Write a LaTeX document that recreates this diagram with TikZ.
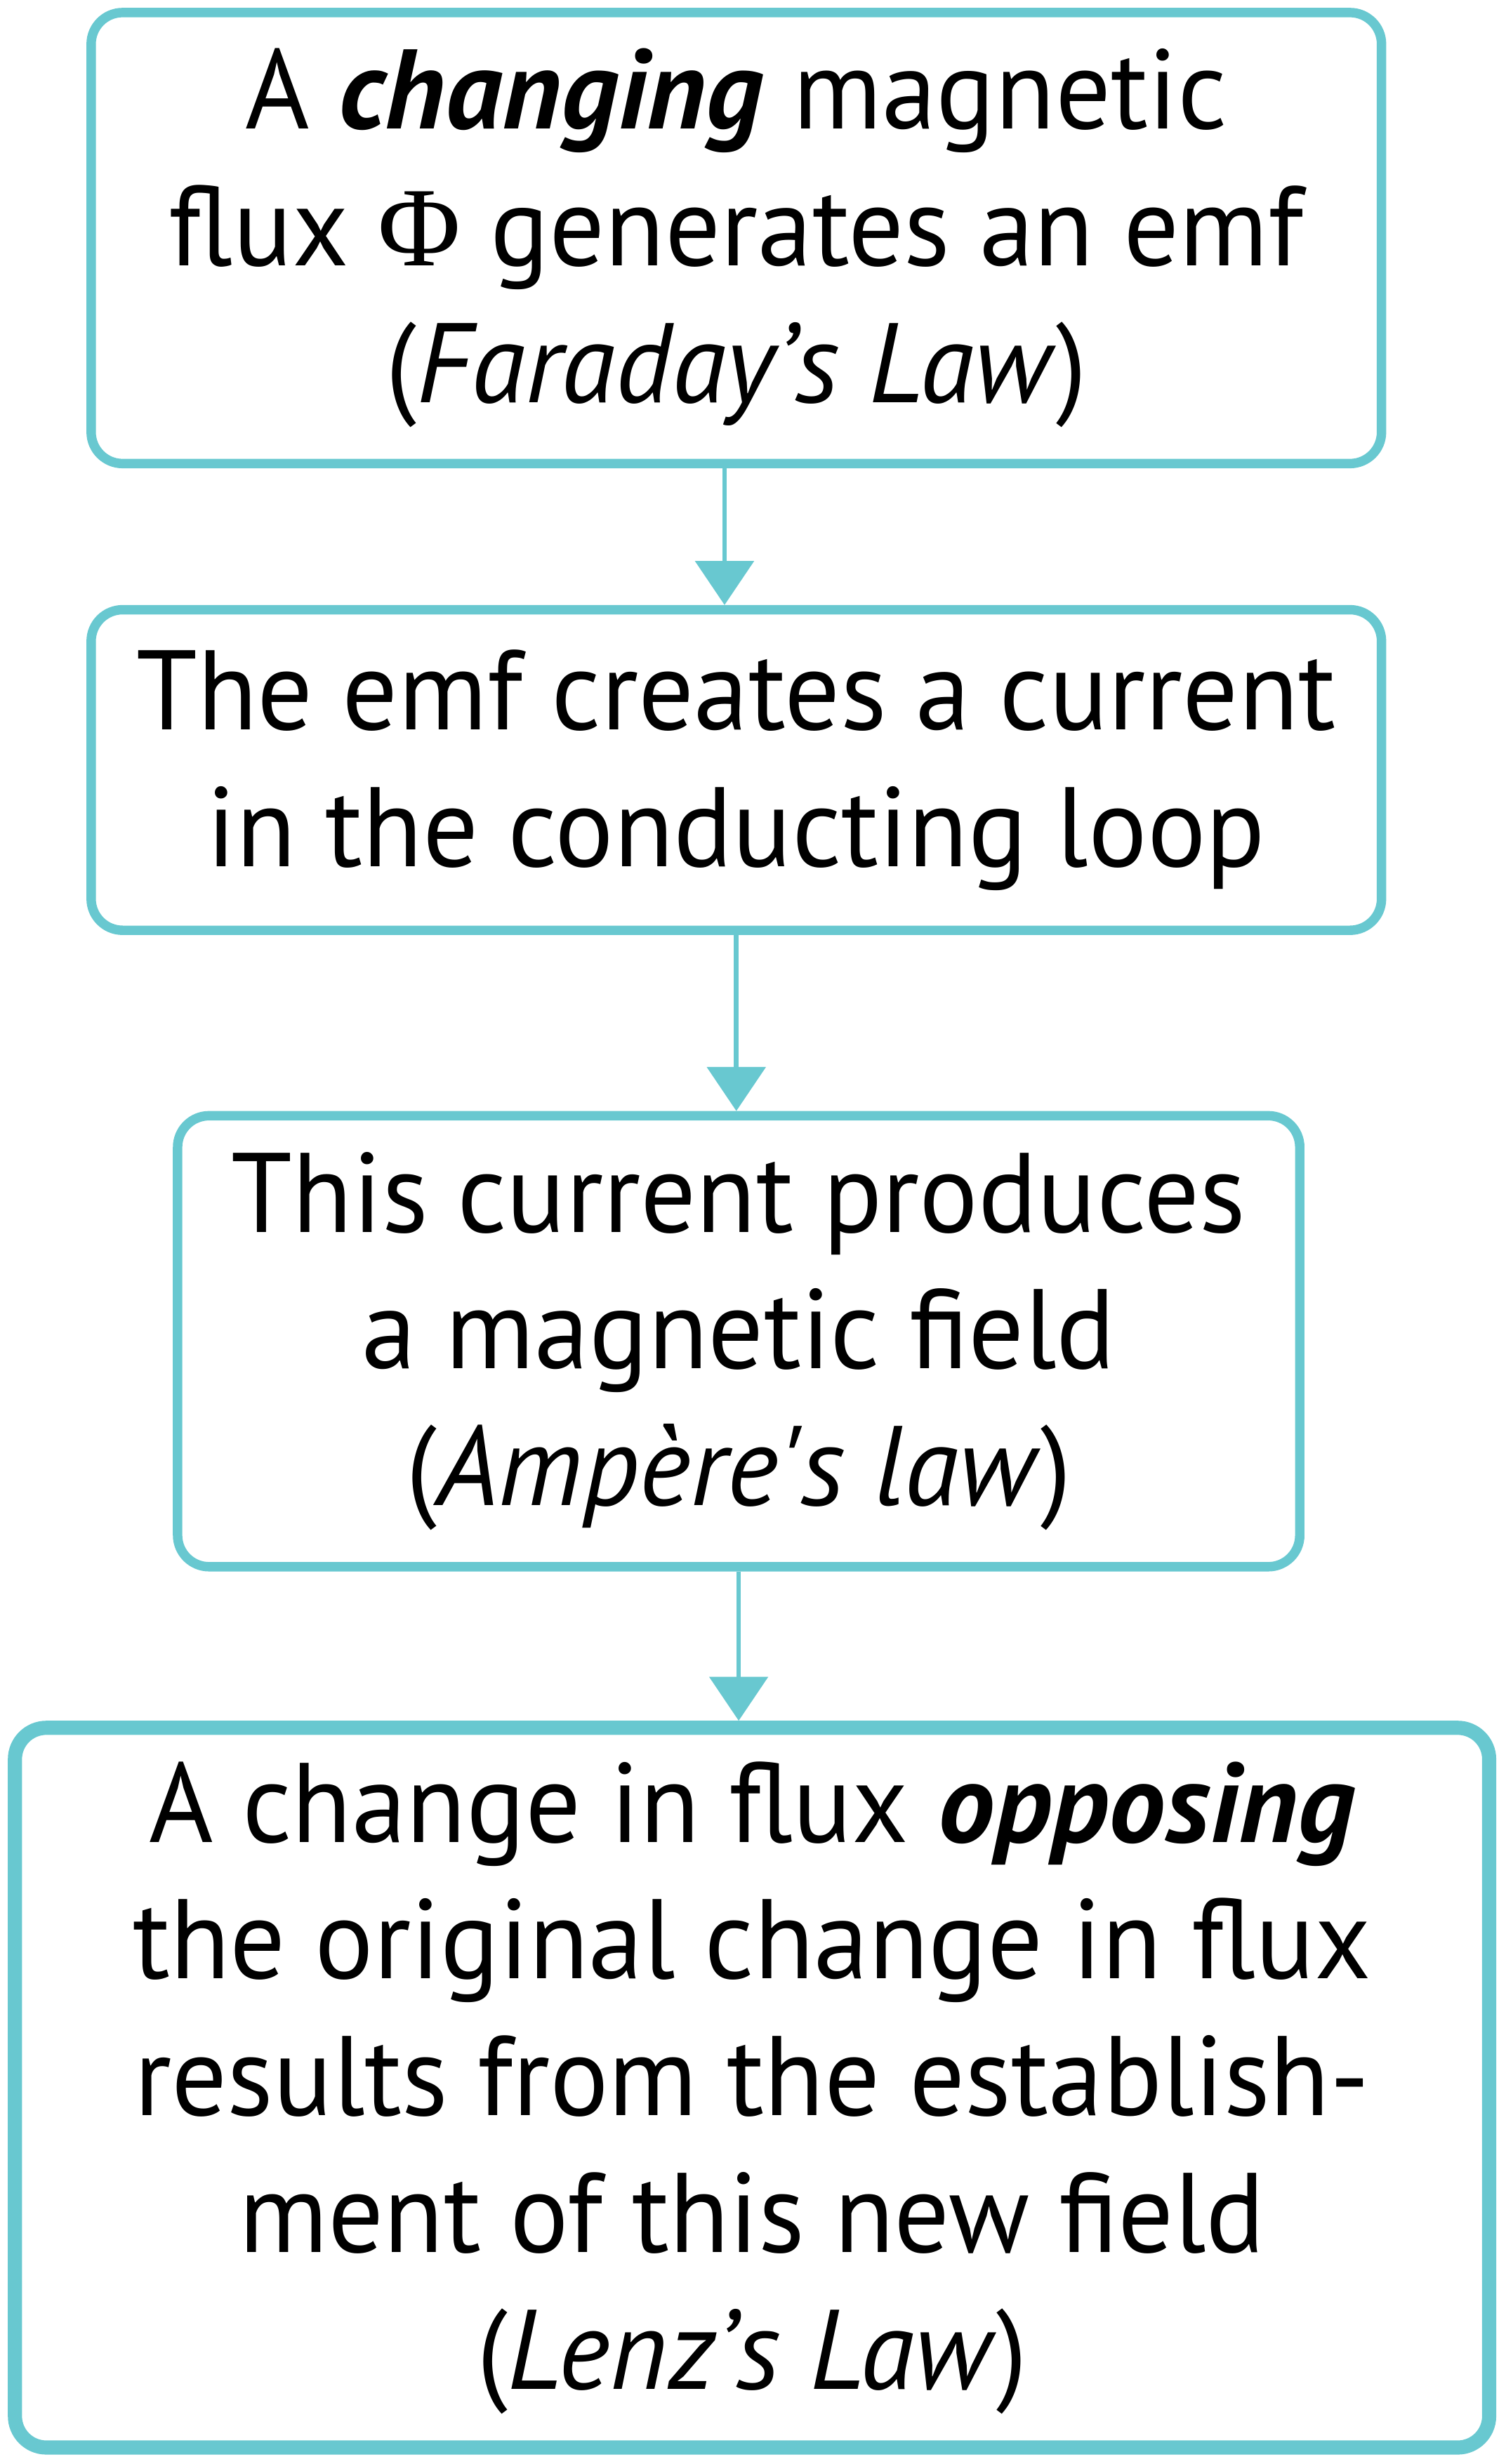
\documentclass[tikz,border=0pt]{standalone}
\usepackage{fontspec}
\setmainfont{PT Sans}[UprightFeatures={FakeStretch=0.97}, ItalicFeatures={FakeStretch=0.98}]
\newfontfamily\lawfont{PT Sans}[Ligatures=TeXOff, ItalicFeatures={FakeStretch=0.98}]
\newfontfamily\phifont{Liberation Serif}
\usetikzlibrary{arrows.meta}
\definecolor{flowcyan}{RGB}{104,200,208}
\tikzset{
 lawbox/.style={draw=flowcyan, line width=3pt, rounded corners=10pt, align=center, inner sep=0pt,
   font=\fontsize{36}{43.5}\selectfont},
 lawarrow/.style={draw=flowcyan, line width=1.5pt, -{Triangle[width=18.5pt,length=14pt]}}
}

\begin{document}
\begin{tikzpicture}[x=0.5pt,y=-0.5pt]
\useasboundingbox (0,0) rectangle (958,1568);
\node[lawbox, minimum width=410.5pt, minimum height=143.5pt] (faraday) at (468.5,151.5)
  {A \textbf{\textit{changing}} magnetic\\ flux {\phifont Φ} generates an emf\\ (\textit{Faraday’s Law})};
\node[lawbox, minimum width=410.5pt, minimum height=102pt] (current) at (468.5,490)
  {The emf creates a current\\ in the conducting loop};
\node[lawbox, minimum width=357pt, minimum height=143.5pt] (ampere) at (470,853.5)
  {This current produces\\ a magnetic field\\ (\textit{Ampère{\lawfont\itshape '}s law})};
\node[lawbox, line width=4.5pt, minimum width=469pt, minimum height=229pt] (lenz) at (478.5,1328.5)
  {A change in flux \textbf{\textit{opposing}}\\ the original change in flux\\ results from the establish-\\ ment of this new field\\ (\textit{Lenz’s Law})};
%arrows
\draw[lawarrow] ([xshift=-3.75pt]faraday.south) -- ([xshift=-3.75pt]current.north);
\draw[lawarrow] (current.south) -- (ampere.north -| current.south);
\draw[lawarrow] (ampere.south) -- (lenz.north -| ampere.south);
\end{tikzpicture}
\end{document}
